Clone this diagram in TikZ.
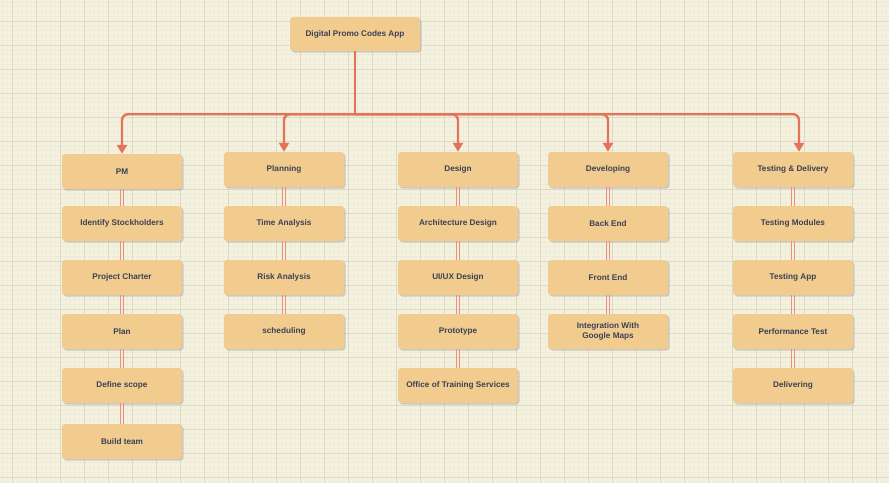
\documentclass[tikz,border=0pt]{standalone}
\usepackage{fontspec}
\setmainfont{Liberation Sans}
\usetikzlibrary{arrows.meta,shadows}

\definecolor{paper}{HTML}{F4F1DF}
\definecolor{minorline}{HTML}{EEEBD8}
\definecolor{majorline}{HTML}{DCD8C5}
\definecolor{boxfill}{HTML}{F2CB8E}
\definecolor{boxtext}{HTML}{3A4256}
\definecolor{linkred}{HTML}{E5735A}

\tikzset{
  task/.style={fill=boxfill, rounded corners=3pt, minimum width=120pt,
    minimum height=35pt, inner sep=2pt, align=center, text=boxtext,
    font=\fontsize{8.2}{9.7}\selectfont\bfseries,
    drop shadow={shadow xshift=1.5pt, shadow yshift=-1.5pt, fill=black!35, opacity=.5}},
  trunk/.style={draw=linkred, line width=2.4pt, rounded corners=6pt},
  branch/.style={trunk, -{Triangle[width=10pt,length=9pt]}},
  chain/.style={draw=linkred!80, line width=0.75pt},
}

\begin{document}
\begin{tikzpicture}[x=1pt,y=-1pt]
\useasboundingbox (0,0) rectangle (889,483);
\fill[paper] (0,0) rectangle (889,483);
% grid
\foreach \x in {2.4,7.2,...,889} \draw[minorline,line width=0.25pt] (\x,0) -- (\x,483);
\foreach \y in {1.8,6.6,...,483} \draw[minorline,line width=0.25pt] (0,\y) -- (889,\y);
\foreach \x in {12,36,...,889} \draw[majorline,line width=0.6pt] (\x,0) -- (\x,483);
\foreach \y in {21,45,...,483} \draw[majorline,line width=0.6pt] (0,\y) -- (889,\y);

% root
\node[task, minimum width=130pt, minimum height=34pt] (root) at (355,34) {Digital Promo Codes App};

% PM
\node[task] (pm) at (122,171.5) {PM};
\node[task] (pm1) at (122,223.5) {Identify Stockholders};
\node[task] (pm2) at (122,277.5) {Project Charter};
\node[task] (pm3) at (122,331.5) {Plan};
\node[task] (pm4) at (122,385.5) {Define scope};
\node[task] (pm5) at (122,441.5) {Build team};

% Planning
\node[task] (plan) at (284,169.5) {Planning};
\node[task] (plan1) at (284,223.5) {Time Analysis};
\node[task] (plan2) at (284,277.5) {Risk Analysis};
\node[task] (plan3) at (284,331.5) {scheduling};

% Design
\node[task] (des) at (458,169.5) {Design};
\node[task] (des1) at (458,223.5) {Architecture Design};
\node[task] (des2) at (458,277.5) {UI/UX Design};
\node[task] (des3) at (458,331.5) {Prototype};
\node[task] (des4) at (458,385.5) {Office of Training Services};

% Developing
\node[task] (dev) at (608,169.5) {Developing};
\node[task] (dev1) at (608,223.5) {Back End};
\node[task] (dev2) at (608,277.5) {Front End};
\node[task] (dev3) at (608,331.5) {Integration With\\Google Maps};

% Testing & Delivery
\node[task] (test) at (793,169.5) {Testing \& Delivery};
\node[task] (test1) at (793,223.5) {Testing Modules};
\node[task] (test2) at (793,277.5) {Testing App};
\node[task] (test3) at (793,331.5) {Performance Test};
\node[task] (test4) at (793,385.5) {Delivering};

% links from the root
\draw[trunk] (root.south) -- ++(0,63) coordinate (hub);
\draw[branch] (hub) -| (pm.north);
\draw[branch] (hub) -| (plan.north);
\draw[branch] (hub) -| (des.north);
\draw[branch] (hub) -| (dev.north);
\draw[branch] (hub) -| ([xshift=6pt]test.north);

% chains inside each column (two thin lines)
\foreach \a/\b in {pm/pm1,pm1/pm2,pm2/pm3,pm3/pm4,pm4/pm5,
                   plan/plan1,plan1/plan2,plan2/plan3,
                   des/des1,des1/des2,des2/des3,des3/des4,
                   dev/dev1,dev1/dev2,dev2/dev3,
                   test/test1,test1/test2,test2/test3,test3/test4}
  \draw[chain] ([xshift=-1.3pt]\a.south) -- ([xshift=-1.3pt]\b.north)
               ([xshift=1.3pt]\a.south) -- ([xshift=1.3pt]\b.north);
\end{tikzpicture}
\end{document}
